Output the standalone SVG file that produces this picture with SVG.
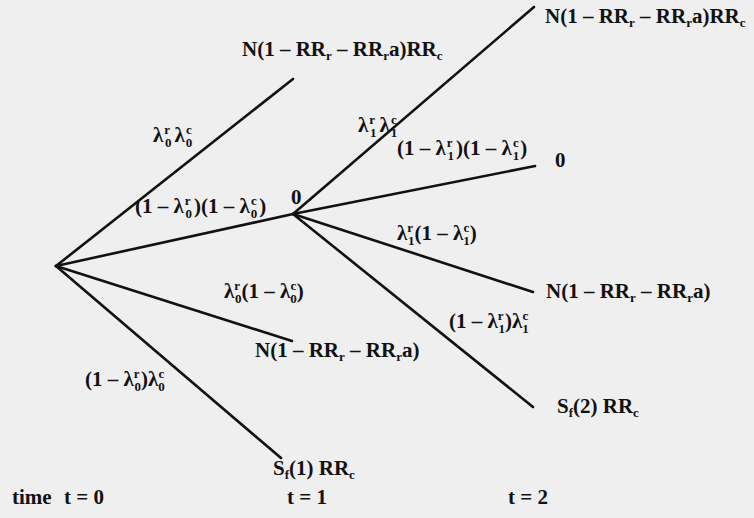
<svg xmlns="http://www.w3.org/2000/svg" width="754" height="518" viewBox="0 0 754 518">
<style>
text{font-family:"Liberation Serif","Times New Roman","DejaVu Serif",serif;font-weight:bold;font-size:21px;fill:#111}
.s{font-size:13px}
.e{stroke:#111;stroke-width:2.6;stroke-linecap:round;fill:none}
</style>
<rect width="754" height="518" fill="#efefef"/>
<g id="connectors">
<line class="e" x1="56" y1="266" x2="293" y2="79"/>
<line class="e" x1="56" y1="266" x2="293" y2="214"/>
<line class="e" x1="56" y1="266" x2="292" y2="341"/>
<line class="e" x1="56" y1="266" x2="281" y2="458"/>
<line class="e" x1="293" y1="214" x2="534" y2="7"/>
<line class="e" x1="293" y1="214" x2="535" y2="166"/>
<line class="e" x1="293" y1="214" x2="533" y2="292"/>
<line class="e" x1="293" y1="214" x2="533" y2="407"/>
</g>
<g id="edge-labels">
<text x="153" y="142">λ<tspan class="s" dx="1" dy="-8">r</tspan><tspan class="s" dx="-5" dy="13">0</tspan><tspan dx="3" dy="-5">λ</tspan><tspan class="s" dx="1" dy="-8">c</tspan><tspan class="s" dx="-6" dy="13">0</tspan></text>
<text x="135" y="213">(1 – λ<tspan class="s" dx="1" dy="-8">r</tspan><tspan class="s" dx="-5" dy="13">0</tspan><tspan dx="2" dy="-5">)(1 – λ</tspan><tspan class="s" dx="1" dy="-8">c</tspan><tspan class="s" dx="-6" dy="13">0</tspan><tspan dx="2" dy="-5">)</tspan></text>
<text x="224" y="298">λ<tspan class="s" dy="-8">r</tspan><tspan class="s" dx="-5" dy="13">0</tspan><tspan dy="-5">(1 – λ</tspan><tspan class="s" dy="-8">c</tspan><tspan class="s" dx="-6" dy="13">0</tspan><tspan dy="-5">)</tspan></text>
<text x="85" y="386">(1 – λ<tspan class="s" dy="-8">r</tspan><tspan class="s" dx="-5" dy="13">0</tspan><tspan dy="-5">)λ</tspan><tspan class="s" dy="-8">c</tspan><tspan class="s" dx="-6" dy="13">0</tspan></text>
<text x="358" y="132">λ<tspan class="s" dx="1" dy="-8">r</tspan><tspan class="s" dx="-5" dy="13">1</tspan><tspan dx="3" dy="-5">λ</tspan><tspan class="s" dx="1" dy="-8">c</tspan><tspan class="s" dx="-6" dy="13">1</tspan></text>
<text x="397" y="155">(1 – λ<tspan class="s" dx="1" dy="-8">r</tspan><tspan class="s" dx="-5" dy="13">1</tspan><tspan dx="2" dy="-5">)(1 – λ</tspan><tspan class="s" dx="1" dy="-8">c</tspan><tspan class="s" dx="-6" dy="13">1</tspan><tspan dx="1" dy="-5">)</tspan></text>
<text x="397" y="240">λ<tspan class="s" dy="-8">r</tspan><tspan class="s" dx="-5" dy="13">1</tspan><tspan dy="-5">(1 – λ</tspan><tspan class="s" dy="-8">c</tspan><tspan class="s" dx="-6" dy="13">1</tspan><tspan dy="-5">)</tspan></text>
<text x="449" y="328">(1 – λ<tspan class="s" dy="-8">r</tspan><tspan class="s" dx="-5" dy="13">1</tspan><tspan dy="-5">)λ</tspan><tspan class="s" dy="-8">c</tspan><tspan class="s" dx="-6" dy="13">1</tspan></text>
</g>
<g id="n1a"><text x="242" y="56">N(1 – RR<tspan class="s" dy="4">r</tspan><tspan dy="-4"> – RR</tspan><tspan class="s" dy="4">r</tspan><tspan dy="-4">a)RR</tspan><tspan class="s" dy="4">c</tspan></text></g>
<g id="n1b"><text x="291" y="204">0</text></g>
<g id="n1c"><text x="255" y="357">N(1 – RR<tspan class="s" dy="4">r</tspan><tspan dy="-4"> – RR</tspan><tspan class="s" dy="4">r</tspan><tspan dy="-4">a)</tspan></text></g>
<g id="n1d"><text x="273" y="475">S<tspan class="s" dy="4">f</tspan><tspan dy="-4">(1) RR</tspan><tspan class="s" dy="4">c</tspan></text></g>
<g id="n2a"><text x="545" y="23">N(1 – RR<tspan class="s" dy="4">r</tspan><tspan dy="-4"> – RR</tspan><tspan class="s" dy="4">r</tspan><tspan dy="-4">a)RR</tspan><tspan class="s" dy="4">c</tspan></text></g>
<g id="n2b"><text x="555" y="167">0</text></g>
<g id="n2c"><text x="546" y="298">N(1 – RR<tspan class="s" dy="4">r</tspan><tspan dy="-4"> – RR</tspan><tspan class="s" dy="4">r</tspan><tspan dy="-4">a)</tspan></text></g>
<g id="n2d"><text x="557" y="413">S<tspan class="s" dy="4">f</tspan><tspan dy="-4">(2) RR</tspan><tspan class="s" dy="4">c</tspan></text></g>
<g id="time-axis">
<text x="12" y="504">time</text>
<text x="64" y="504">t = 0</text>
<text x="287" y="504">t = 1</text>
<text x="508" y="504">t = 2</text>
</g>
</svg>
